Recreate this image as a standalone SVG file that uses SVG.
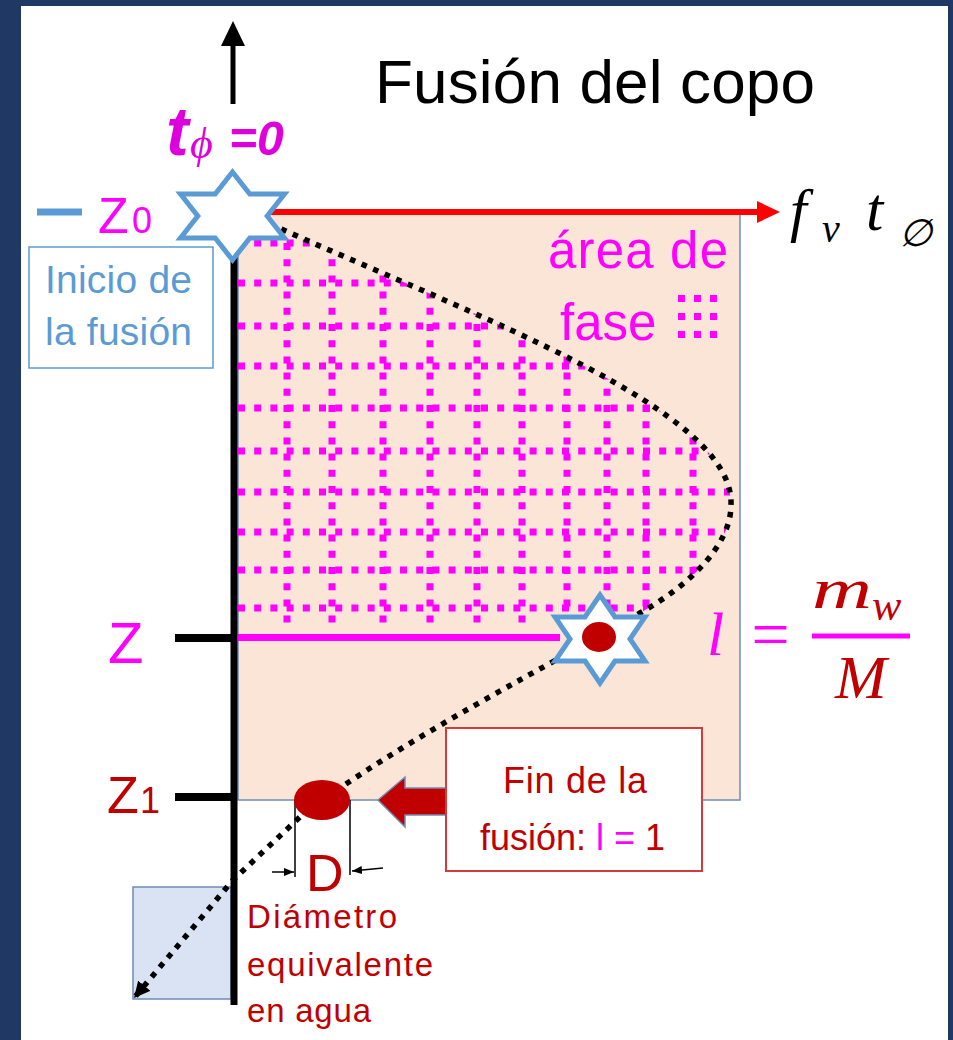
<svg xmlns="http://www.w3.org/2000/svg" width="953" height="1040" viewBox="0 0 953 1040">
<defs>
<style>
.sans{font-family:"Liberation Sans",Arial,"DejaVu Sans",sans-serif}
.serif{font-family:"Liberation Serif","DejaVu Serif",serif;font-style:italic}
.mag{fill:#FF00FF}
.dred{fill:#C00000}
.blue{fill:#5B9BD5}
.star{fill:#FFFFFF;stroke:#5B9BD5;stroke-width:5;stroke-linejoin:miter}
.grid{stroke:#FF00FF;stroke-width:7;stroke-dasharray:7 9.2;fill:none}
.tick{stroke:#000;stroke-width:8}
.thin{stroke:#000;stroke-width:1.5;fill:none}
.box{stroke:#6E8DB5;stroke-width:1.5}
</style>
<marker id="ahCurve" markerUnits="userSpaceOnUse" markerWidth="20" markerHeight="18" refX="16" refY="8" orient="auto">
<path d="M0,0 L16,8 L0,16 z" fill="#000"/>
</marker>
<marker id="ahSmall" markerUnits="userSpaceOnUse" markerWidth="12" markerHeight="10" refX="10" refY="4" orient="auto">
<path d="M0,0 L10,4 L0,8 z" fill="#000"/>
</marker>
<clipPath id="gridBox"><rect x="238" y="239" width="502" height="391"/></clipPath>
<clipPath id="gridCurve"><path d="M238,200 L238,224 L270,224 C480,318 735,410 731,505 C731,545 690,585 640,613 L640,640 L238,640 Z"/></clipPath>
</defs>

<rect x="0" y="0" width="953" height="1040" fill="#1F3864"/>
<rect x="21" y="6" width="927" height="1034" fill="#FFFFFF"/>

<g id="phase-area">
<rect x="238" y="212" width="502" height="588" fill="#FBE5D6" class="box"/>
<g clip-path="url(#gridBox)">
<g clip-path="url(#gridCurve)">
<path class="grid" d="M238,243 H740 M238,283 H740 M238,326 H740 M238,366 H740 M238,408 H740 M238,451 H740 M238,492 H740 M238,532 H740 M238,570 H740 M238,608 H740"/>
<path class="grid" d="M287,243 V637 M332,243 V637 M383,243 V637 M430,243 V637 M477,243 V637 M522,243 V637 M567,243 V637 M607,243 V637 M646,243 V637 M693,243 V637"/>
</g>
</g>
</g>

<g id="water-box">
<rect x="133" y="887" width="98" height="112" fill="#DAE3F3" class="box"/>
</g>

<g id="connectors">
<path d="M270,224 C480,318 735,410 731,505 C731,545 690,585 640,613 C560,660 400,740 300,817 L233,880 L134,998" fill="none" stroke="#000" stroke-width="5.5" stroke-dasharray="5.5 7" marker-end="url(#ahCurve)"/>
<line x1="250" y1="212" x2="760" y2="212" stroke="#FF0000" stroke-width="6"/>
<polygon points="757,201 780,212 757,223" fill="#FF0000"/>
<line x1="238" y1="637.5" x2="560" y2="637.5" stroke="#FF00FF" stroke-width="7"/>
<line x1="233" y1="104" x2="233" y2="42" stroke="#000" stroke-width="5"/>
<polygon points="221,46 233,21 245,46" fill="#000"/>
<line x1="234" y1="250" x2="234" y2="1005" stroke="#000" stroke-width="7"/>
<line class="tick" x1="175" y1="638" x2="234" y2="638"/>
<line class="tick" x1="175" y1="797" x2="234" y2="797"/>
<line x1="37" y1="212" x2="82" y2="212" stroke="#5B9BD5" stroke-width="7"/>
<polygon points="378,800 405,777 405,788 446,788 446,815 405,815 405,827" fill="#C00000" class="box"/>
<line class="thin" x1="295" y1="800" x2="295" y2="877"/>
<line class="thin" x1="350" y1="800" x2="350" y2="875"/>
<line class="thin" x1="272" y1="872" x2="294" y2="872" marker-end="url(#ahSmall)"/>
<line class="thin" x1="383" y1="868" x2="352" y2="871" marker-end="url(#ahSmall)"/>
</g>

<g id="title">
<text class="sans" x="375" y="103" font-size="62" textLength="440" fill="#000">Fusión del copo</text>
</g>

<g id="start-star">
<polygon class="star" points="232.5,172 249.8,194 284.5,194 267.2,216 284.5,238 249.8,238 232.5,260 215.2,238 180.5,238 197.8,216 180.5,194 215.2,194"/>
</g>

<g id="t0-label">
<text x="166" y="155" fill="#DD00DD"><tspan class="sans" font-size="68" font-weight="bold" font-style="italic">t</tspan><tspan class="serif" font-size="44" x="190" dy="3">ϕ</tspan><tspan class="sans" font-size="48" font-weight="bold" font-style="italic" x="229" dy="-3">=0</tspan></text>
</g>

<g id="z0-label">
<text class="sans mag" x="98" y="233"><tspan font-size="50">Z</tspan><tspan font-size="36" x="132">0</tspan></text>
</g>

<g id="start-box">
<rect x="29" y="247" width="184" height="121" fill="#FFFFFF" stroke="#5B9BD5" stroke-width="1.5"/>
<text class="sans blue" x="45" y="293" font-size="39" textLength="147">Inicio de</text>
<text class="sans blue" x="45" y="345" font-size="39" textLength="147">la fusión</text>
</g>

<g id="phase-label">
<text class="sans mag" x="548" y="268" font-size="51" textLength="180">área de</text>
<text class="sans mag" x="560" y="340" font-size="51">fase</text>
<g fill="#FF00FF">
<rect x="678" y="295" width="7" height="7"/><rect x="694" y="295" width="7" height="7"/><rect x="710" y="295" width="7" height="7"/>
<rect x="678" y="313" width="7" height="7"/><rect x="694" y="313" width="7" height="7"/><rect x="710" y="313" width="7" height="7"/>
<rect x="678" y="331" width="7" height="7"/><rect x="694" y="331" width="7" height="7"/><rect x="710" y="331" width="7" height="7"/>
</g>
</g>

<g id="axis-label">
<text class="serif" x="790" y="230" fill="#000"><tspan font-size="60">f</tspan><tspan font-size="40" x="822" dy="12">v</tspan><tspan font-size="62" x="866" dy="-12">t</tspan><tspan font-size="38" x="899" dy="16">∅</tspan></text>
</g>

<g id="z-label">
<text class="sans mag" x="108" y="663" font-size="58">Z</text>
</g>

<g id="z1-label">
<text class="sans dred" x="107" y="813"><tspan font-size="52">Z</tspan><tspan font-size="36" x="140">1</tspan></text>
</g>

<g id="flake-star">
<polygon class="star" points="600,595 615,617 645,617 630,639 645,661 615,661 600,683 585,661 555,661 570,639 555,617 585,617"/>
<ellipse cx="599" cy="637" rx="17" ry="15" fill="#C00000"/>
</g>

<g id="formula">
<text class="serif mag" x="707" y="655" font-size="62">l</text>
<text class="serif mag" x="747" y="657" font-size="68">=</text>
<text class="serif dred" x="812" y="608" font-size="56" textLength="60" lengthAdjust="spacingAndGlyphs">m</text>
<text class="serif dred" x="872" y="620" font-size="44">w</text>
<line x1="812" y1="636" x2="910" y2="636" stroke="#FF00FF" stroke-width="5"/>
<text class="serif dred" x="835" y="698" font-size="62">M</text>
</g>

<g id="drop">
<ellipse cx="322" cy="800" rx="28" ry="20" fill="#C00000"/>
</g>

<g id="end-box">
<rect x="446" y="728" width="256" height="143" fill="#FFFFFF" stroke="#D63B3B" stroke-width="2"/>
<text class="sans dred" x="503" y="793" font-size="36" textLength="144">Fin de la</text>
<text class="sans dred" x="480" y="850" font-size="36">fusión: <tspan class="mag">l =</tspan> 1</text>
</g>

<g id="diameter-label">
<text class="sans dred" x="306" y="891" font-size="52">D</text>
<text class="sans dred" x="247" y="928" font-size="33" textLength="150">Diámetro</text>
<text class="sans dred" x="247" y="976" font-size="33" textLength="186">equivalente</text>
<text class="sans dred" x="247" y="1022" font-size="33" textLength="124">en agua</text>
</g>
</svg>
